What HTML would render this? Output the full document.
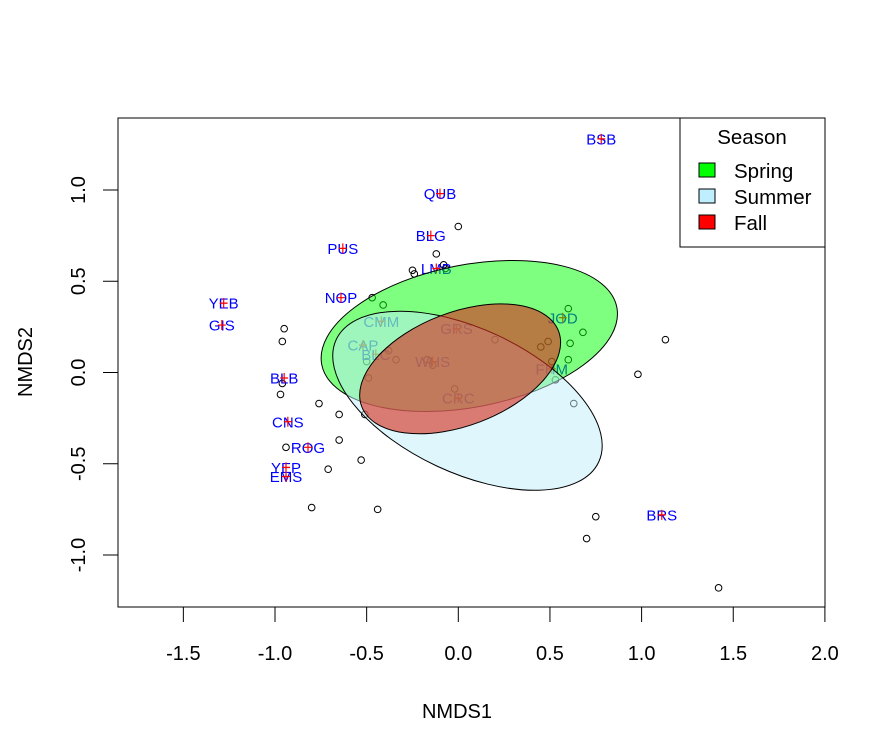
<!DOCTYPE html>
<html><head><meta charset="utf-8"><style>
body{margin:0;background:#fff}
svg{display:block;font-family:"Liberation Sans",Arial,sans-serif}
</style></head><body>
<svg id="chart" width="886" height="754" viewBox="0 0 886 754">
<rect width="886" height="754" fill="#fff"/>
<g id="pts"></g>
<g id="labs"></g>
<g id="ells"></g>
<rect x="118" y="118" width="707" height="489" fill="none" stroke="#000" stroke-width="1"/>
<g id="axes"></g>
<text x="457" y="718" font-size="20" text-anchor="middle">NMDS1</text>
<text transform="translate(32,362) rotate(-90)" font-size="20" text-anchor="middle">NMDS2</text>
<g>
<rect x="680" y="118" width="145" height="129" fill="#fff" stroke="#000"/>
<text x="752" y="144" font-size="20.5" text-anchor="middle">Season</text>
<rect x="699" y="163" width="16" height="14" fill="#00ff00" stroke="#000"/>
<text x="734" y="178" font-size="20.5">Spring</text>
<rect x="699" y="189" width="16" height="14" fill="#bfefff" stroke="#000"/>
<text x="734" y="204" font-size="20.5">Summer</text>
<rect x="699" y="215" width="16" height="14" fill="#ff0000" stroke="#000"/>
<text x="734" y="230" font-size="20.5">Fall</text>
</g>
</svg>
<script>
const xTicks=[-1.5,-1.0,-0.5,0.0,0.5,1.0,1.5,2.0];
const yTicks=[-1.0,-0.5,0.0,0.5,1.0];
const siteX=[0.00,1.68,-0.12,-0.08,-0.07,-0.25,-0.24,-0.47,-0.41,-0.95,-0.96,0.60,0.68,0.61,0.49,0.45,0.20,-0.38,-0.34,-0.50,-0.17,-0.96,-0.97,-0.76,1.13,0.98,0.53,0.63,-0.02,-0.49,-0.65,-0.94,-0.65,-0.71,-0.53,-0.80,-0.44,0.75,0.70,1.42,-0.14,0.51,0.60,-0.51];
const siteY=[0.80,0.85,0.65,0.59,0.57,0.56,0.54,0.41,0.37,0.24,0.17,0.35,0.22,0.16,0.17,0.14,0.18,0.12,0.07,0.06,0.07,-0.06,-0.12,-0.17,0.18,-0.01,-0.04,-0.17,-0.09,-0.03,-0.23,-0.41,-0.37,-0.53,-0.48,-0.74,-0.75,-0.79,-0.91,-1.18,0.04,0.06,0.07,-0.23];
const spNames=["BSB","QUB","BLG","PUS","LMB","NOP","YEB","GIS","CMM","CAP","BLC","GRS","JOD","WHS","FHM","CRC","BLB","CNS","ROG","YEP","EMS","BRS"];
const spX=[0.78,-0.10,-0.15,-0.63,-0.12,-0.64,-1.28,-1.29,-0.42,-0.52,-0.45,-0.01,0.57,-0.14,0.51,0.00,-0.95,-0.93,-0.82,-0.94,-0.94,1.11];
const spY=[1.28,0.98,0.75,0.68,0.57,0.41,0.38,0.26,0.28,0.15,0.10,0.24,0.30,0.06,0.02,-0.14,-0.03,-0.27,-0.41,-0.52,-0.57,-0.78];
const ellName=["spring","summer","fall"];
const ellCX=[0.06,0.05,0.01];
const ellCY=[0.20,-0.155,0.02];
const ellRX=[0.82,0.79,0.575];
const ellRY=[0.39,0.395,0.31];
const ellAng=[-11,25,-21];
const ellFill=["rgba(0,255,0,0.5)","rgba(190,237,249,0.51)","rgba(215,45,30,0.62)"];
const NS="http://www.w3.org/2000/svg";
const X0=458.3,SX=183.3,Y0=372.5,SY=182.5;
const sx=v=>X0+v*SX, sy=v=>Y0-v*SY;
function mk(t,a,p){const e=document.createElementNS(NS,t);for(const k in a)e.setAttribute(k,a[k]);p.appendChild(e);return e;}
siteX[1]=(765-X0)/SX;
const pts=document.getElementById('pts');
siteX.forEach((v,i)=>{const c=mk('circle',{cx:sx(v),cy:sy(siteY[i]),r:3.3,fill:'none',stroke:'#000','stroke-width':1},pts);

});
const labs=document.getElementById('labs');
spNames.forEach((n,i)=>{const x=sx(spX[i]),y=sy(spY[i]);
const t=mk('text',{x:x,y:y+5.5,'font-size':15,'text-anchor':'middle',fill:'#0000ff'},labs);t.textContent=n;


const p=mk('path',{d:`M${x-4},${y}H${x+4}M${x},${y-5}V${y+5}`,stroke:'#ff0000','stroke-width':1.2},labs);

});
const ells=document.getElementById('ells');
ellName.forEach((n,i)=>{const e=mk('ellipse',{cx:sx(ellCX[i]),cy:sy(ellCY[i]),rx:ellRX[i]*SX,ry:ellRY[i]*SY,fill:ellFill[i],stroke:'#000','stroke-width':1,transform:`rotate(${ellAng[i]} ${sx(ellCX[i])} ${sy(ellCY[i])})`},ells);

});
const ax=document.getElementById('axes');
mk('line',{x1:sx(-1.5),x2:sx(2.0),y1:607,y2:607,stroke:'#000'},ax);
xTicks.forEach(v=>{mk('line',{x1:sx(v),x2:sx(v),y1:607,y2:622,stroke:'#000'},ax);
const t=mk('text',{x:sx(v),y:660,'font-size':20,'text-anchor':'middle'},ax);t.textContent=v.toFixed(1);

});
mk('line',{x1:118,x2:118,y1:sy(-1),y2:sy(1),stroke:'#000'},ax);
yTicks.forEach(v=>{mk('line',{x1:103,x2:118,y1:sy(v),y2:sy(v),stroke:'#000'},ax);
const t=mk('text',{transform:`translate(85,${sy(v)}) rotate(-90)`,'font-size':20,'text-anchor':'middle'},ax);t.textContent=v.toFixed(1);

});
</script>
</body></html>
